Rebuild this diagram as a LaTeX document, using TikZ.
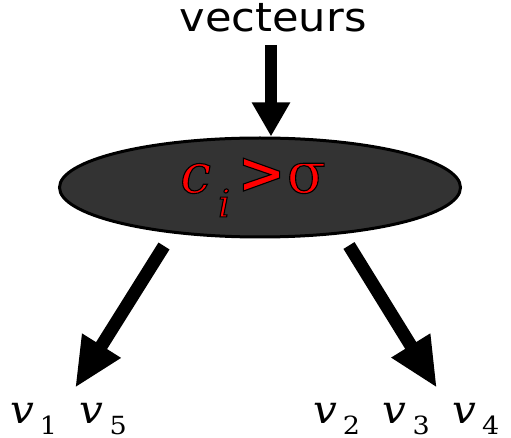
\documentclass[tikz,border=0pt]{standalone}
\usepackage{fontspec}
\setmainfont{DejaVu Sans}
\newfontfamily\dvserif{DejaVu Serif}
\usetikzlibrary{arrows.meta,shapes.geometric}
\definecolor{ellfill}{HTML}{333333}
\tikzset{
  decision/.style={ellipse, draw=black, line width=3pt, fill=ellfill,
    minimum width=401pt, minimum height=99pt, inner sep=0pt},
  bigarrow/.style={line width=13pt, -{Triangle[length=50pt,width=42pt]}},
  toparrow/.style={line width=12pt, -{Triangle[length=34pt,width=36pt]}},
  vlabel/.style={anchor=base west, inner sep=0pt},
}
\newcommand{\vv}{{\fontsize{39}{39}\selectfont\dvserif\itshape v}}
\newcommand{\vs}[1]{\lower11pt\hbox{\fontsize{25}{25}\selectfont\dvserif #1}}
\newcommand{\outl}[1]{{\color{red}\special{pdf:literal 0 G 2 Tr 1.1 w}#1\special{pdf:literal 0 Tr}}}
\begin{document}
\begin{tikzpicture}[x=1pt,y=-1pt]
\useasboundingbox (0,0) rectangle (511,438);
\node[inner sep=0pt, anchor=base] (top) at (273,32) {\scalebox{1.08}[1]{\fontsize{40}{40}\selectfont vecteurs}};
\node[decision] (dec) at (260,187.5) {\outl{{\fontsize{55}{55}\selectfont\dvserif\itshape c}\kern7pt\lower24pt\hbox{\fontsize{38}{38}\selectfont\dvserif\itshape i}\kern7pt{\fontsize{58}{58}\selectfont\bfseries >}\kern1pt{\fontsize{57}{57}\selectfont\dvserif σ}}\kern14pt};
\node[vlabel] (L) at (10,423) {\scalebox{1.08}[1]{\vv\kern5.5pt\vs{1}\kern21pt\vv\kern5.5pt\vs{5}}};
\node[vlabel] (R) at (313,423) {\scalebox{1.08}[1]{\vv\kern5.5pt\vs{2}\kern21pt\vv\kern5.5pt\vs{3}\kern21pt\vv\kern5.5pt\vs{4}}};
\coordinate (topstart) at (271,45);
\coordinate (ls) at (164,246);
\coordinate (lt) at (75,388);
\coordinate (rs) at (349,245.5);
\coordinate (rt) at (437,388);
\draw[toparrow] (topstart) -- (topstart |- dec.north);
\draw[bigarrow] (ls) -- (lt);
\draw[bigarrow] (rs) -- (rt);
\end{tikzpicture}
\end{document}
